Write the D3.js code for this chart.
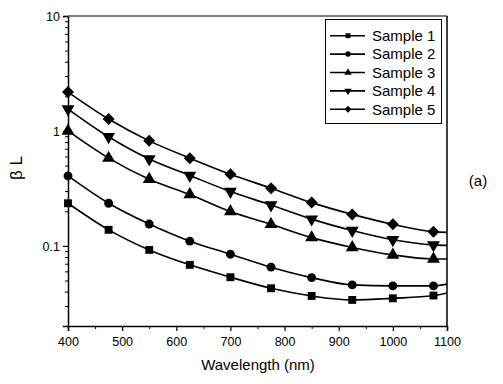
<!DOCTYPE html>
<html><head><meta charset="utf-8">
<script src="https://cdn.jsdelivr.net/npm/d3@7"></script>
<style>body{margin:0;background:#fff}svg{display:block}text{font-family:"Liberation Sans",Arial,sans-serif;fill:#000}</style>
</head><body><svg id="c" width="503" height="384"></svg>
<script>
const wavelengths = [400,475,550,625,700,775,850,925,1000,1075,1100];
const seriesNames = ["Sample 1","Sample 2","Sample 3","Sample 4","Sample 5"];
const sample1 = [0.235,0.138,0.0923,0.0684,0.0534,0.0428,0.0367,0.0339,0.035,0.037,0.039];
const sample2 = [0.406,0.235,0.155,0.110,0.0847,0.0653,0.053,0.0458,0.0449,0.0449,0.0465];
const sample3 = [1.0,0.58,0.38,0.28,0.199,0.154,0.118,0.097,0.0835,0.077,0.077];
const sample4 = [1.55,0.89,0.57,0.41,0.297,0.227,0.171,0.136,0.113,0.102,0.101];
const sample5 = [2.18,1.27,0.82,0.58,0.42,0.318,0.238,0.188,0.154,0.133,0.131];
const markerCount = 10; // first 10 wavelengths carry markers
const xTicks = [400,500,600,700,800,900,1000,1100];
const yTicks = [0.1,1,10];
const symbols = ["square","circle","up","down","diamond"];
const allSeries = [sample1,sample2,sample3,sample4,sample5];

const svg = d3.select("#c");
const L=68, R=447, T=16, B=326;
const x = d3.scaleLinear().domain([400,1100]).range([L,R]);
const y = d3.scaleLog().domain([0.0201,10]).range([B,T]);

const yMinor = [];
[0.01,0.1,1].forEach(d=>{for(let k=2;k<=9;k++){const v=d*k; if(v>=0.0201&&v<=10) yMinor.push(v);}});
const yAxis = d3.axisLeft(y).tickValues(yTicks).tickFormat(d=>d===10?"10":d===1?"1":"0.1").tickSize(5).tickPadding(3);
const gy = svg.append("g").attr("transform",`translate(${L},0)`).call(yAxis);
gy.selectAll(".tick line").attr("stroke","#000").attr("stroke-width",1.2);
gy.select(".domain").attr("stroke","#000").attr("stroke-width",1.5);
gy.selectAll("text").attr("font-size",12.5).attr("dy","0.35em");
svg.append("g").attr("transform",`translate(${L},0)`).call(d3.axisLeft(y).tickValues(yMinor).tickFormat("").tickSize(3))
  .call(g=>{g.select(".domain").remove(); g.selectAll("line").attr("stroke","#000");});

const xAxis = d3.axisBottom(x).tickValues(xTicks).tickFormat(d3.format("d")).tickSize(5).tickPadding(6);
const gx = svg.append("g").attr("transform",`translate(0,${B})`).call(xAxis);
gx.select(".domain").attr("stroke","#000").attr("stroke-width",1.5);
gx.selectAll(".tick line").attr("stroke","#000").attr("stroke-width",1.2);
gx.selectAll("text").attr("font-size",12.5);
svg.append("g").attr("transform",`translate(0,${B})`).call(d3.axisBottom(x).tickValues(d3.range(450,1100,100)).tickFormat("").tickSize(3))
  .call(g=>{g.select(".domain").remove(); g.selectAll("line").attr("stroke","#000");});

svg.append("line").attr("x1",L).attr("x2",R).attr("y1",T).attr("y2",T).attr("stroke","#555").attr("stroke-width",1.5);
svg.append("line").attr("x1",R).attr("x2",R).attr("y1",T).attr("y2",B).attr("stroke","#000").attr("stroke-width",1.5);

svg.append("text").attr("x",258).attr("y",370).attr("text-anchor","middle").attr("font-size",15).text("Wavelength (nm)");
svg.append("text").attr("transform","translate(22,168) rotate(-90)").attr("text-anchor","middle").attr("font-size",17).text("β L");
svg.append("text").attr("x",478).attr("y",186).attr("text-anchor","middle").attr("font-size",15).text("(a)");

function sym(kind,size){
  if(kind==="square") return {d:d3.symbol(d3.symbolSquare,size)(),rot:0};
  if(kind==="circle") return {d:d3.symbol(d3.symbolCircle,size)(),rot:0};
  if(kind==="up") return {d:d3.symbol(d3.symbolTriangle,size)(),rot:0};
  if(kind==="down") return {d:d3.symbol(d3.symbolTriangle,size)(),rot:180};
  return {d:d3.symbol(d3.symbolSquare,size)(),rot:45};
}
const sizes=[62,62,72,72,72];
const line = d3.line().x(d=>x(d[0])).y(d=>y(d[1])).curve(d3.curveMonotoneX);
allSeries.forEach((s,i)=>{
  const pts = wavelengths.map((w,j)=>[w,s[j]]);
  svg.append("path").attr("d",line(pts)).attr("fill","none").attr("stroke","#000").attr("stroke-width",1.6);
  pts.slice(0,markerCount).forEach(p=>{
    const m=sym(symbols[i],sizes[i]);
    svg.append("path").attr("d",m.d)
      .attr("transform",`translate(${x(p[0])},${y(p[1])}) rotate(${m.rot})`).attr("fill","#000");
  });
});

svg.append("rect").attr("x",325.5).attr("y",19.5).attr("width",116).attr("height",104).attr("fill","#fff").attr("stroke","#000").attr("stroke-width",1);
seriesNames.forEach((n,i)=>{
  const yy=35.7+i*18.4;
  svg.append("line").attr("x1",330).attr("x2",365).attr("y1",yy).attr("y2",yy).attr("stroke","#000").attr("stroke-width",1.6);
  const m=sym(symbols[i],24);
  svg.append("path").attr("d",m.d).attr("transform",`translate(348,${yy}) rotate(${m.rot})`).attr("fill","#000");
  svg.append("text").attr("x",372).attr("y",yy).attr("dy","0.35em").attr("font-size",15).text(n);
});
</script></body></html>
